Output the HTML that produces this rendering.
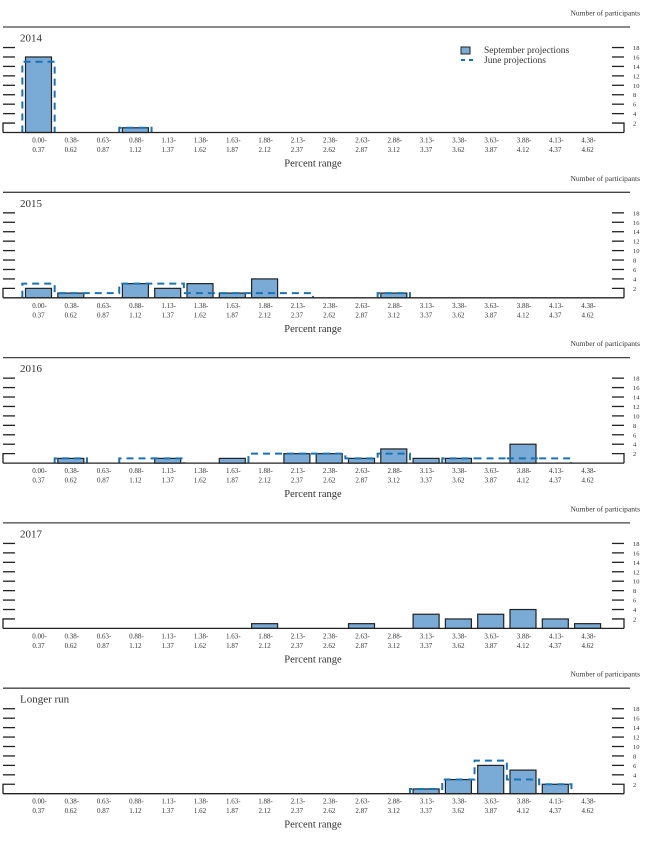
<!DOCTYPE html>
<html><head><meta charset="utf-8"><style>
html,body{margin:0;padding:0;background:#fff;}
svg text{font-family:"Liberation Serif",serif;fill:#333;}
</style></head><body>
<svg id="chart" width="647" height="859" xmlns="http://www.w3.org/2000/svg"></svg>
<script>
const categories=["0.00-|0.37","0.38-|0.62","0.63-|0.87","0.88-|1.12","1.13-|1.37","1.38-|1.62","1.63-|1.87","1.88-|2.12","2.13-|2.37","2.38-|2.62","2.63-|2.87","2.88-|3.12","3.13-|3.37","3.38-|3.62","3.63-|3.87","3.88-|4.12","4.13-|4.37","4.38-|4.62"];
const yTicks=[2,4,6,8,10,12,14,16,18];
const panelTitles=["2014","2015","2016","2017","Longer run"];
const sept2014=[16,0,0,1,0,0,0,0,0,0,0,0,0,0,0,0,0,0];
const june2014=[15,0,0,1,0,0,0,0,0,0,0,0,0,0,0,0,0,0];
const sept2015=[2,1,0,3,2,3,1,4,0,0,0,1,0,0,0,0,0,0];
const june2015=[3,1,1,3,3,1,1,1,1,0,0,1,0,0,0,0,0,0];
const sept2016=[0,1,0,0,1,0,1,0,2,2,1,3,1,1,0,4,0,0];
const june2016=[0,1,0,1,1,0,0,2,2,2,1,2,0,1,1,1,1,0];
const sept2017=[0,0,0,0,0,0,0,1,0,0,1,0,3,2,3,4,2,1];
const june2017=[0,0,0,0,0,0,0,0,0,0,0,0,0,0,0,0,0,0];
const septLR=[0,0,0,0,0,0,0,0,0,0,0,0,1,3,6,5,2,0];
const juneLR=[0,0,0,0,0,0,0,0,0,0,0,0,1,3,7,3,2,0];

const svg=document.getElementById('chart');
const NS="http://www.w3.org/2000/svg";
function mk(tag,attrs,parent){const e=document.createElementNS(NS,tag);for(const k in attrs)e.setAttribute(k,attrs[k]);(parent||svg).appendChild(e);return e;}
const sept=[sept2014,sept2015,sept2016,sept2017,septLR];
const june=[june2014,june2015,june2016,june2017,juneLR];
const STEP=32.3, C0=38.5, BW=26, UNIT=4.72;
function xc(i){return C0+i*STEP;}

panelTitles.forEach((title,p)=>{
  const base=132.5+p*165.3;
  const y=v=>base-v*UNIT;
  const g=mk('g',{});
  
  
  let t=mk('text',{x:640,y:base-117,'text-anchor':'end','font-size':7.5},g);t.textContent="Number of participants";
  
  let l=mk('line',{x1:3,x2:630,y1:base-105.5,y2:base-105.5,stroke:'#444','stroke-width':1.3},g);
  
  t=mk('text',{x:20,y:base-91,'font-size':11},g);t.textContent=title;
  
  yTicks.forEach(v=>{
    if(v===2){
      let a=mk('path',{d:`M15,${y(v)}H3V${base}`,fill:'none',stroke:'#222','stroke-width':1.3},g);
      
      a=mk('path',{d:`M612,${y(v)}H624V${base}`,fill:'none',stroke:'#222','stroke-width':1.3},g);
      
    } else {
      let a=mk('line',{x1:3,x2:15,y1:y(v),y2:y(v),stroke:'#222','stroke-width':1.3},g);
      
      a=mk('line',{x1:612,x2:624,y1:y(v),y2:y(v),stroke:'#222','stroke-width':1.3},g);
      
    }
    const tl=mk('text',{x:633,y:y(v)+2.5,'font-size':6.5},g);tl.textContent=v;
    
  });
  sept[p].forEach((v,i)=>{
    if(!v)return;
    const r=mk('rect',{x:xc(i)-BW/2,y:y(v),width:BW,height:v*UNIT,fill:'#7aaad6',stroke:'#222','stroke-width':1.2},g);
    
  });
  // June step outline
  const jv=june[p];let i=0;
  while(i<jv.length){
    if(!jv[i]){i++;continue;}
    let d=`M${xc(i)-STEP/2},${base}`;
    while(i<jv.length&&jv[i]){d+=`V${y(jv[i])}H${xc(i)+STEP/2}`;i++;}
    d+=`V${base}`;
    const pa=mk('path',{d,fill:'none',stroke:'#1a72b0','stroke-width':2,'stroke-dasharray':'7,5'},g);
    
  }
  l=mk('line',{x1:3,x2:624,y1:base,y2:base,stroke:'#222','stroke-width':1.3},g);
  
  categories.forEach((c,k)=>{
    const [a,b]=c.split('|');
    let tx=mk('text',{x:xc(k)+1,y:base+10,'text-anchor':'middle','font-size':7},g);tx.textContent=a;
    
    tx=mk('text',{x:xc(k),y:base+19.5,'text-anchor':'middle','font-size':7},g);tx.textContent=b;
    
  });
  t=mk('text',{x:313,y:base+34,'text-anchor':'middle','font-size':10.5},g);t.textContent="Percent range";
  
});
// legend
const lg=mk('g',{});


let r=mk('rect',{x:461,y:47,width:9,height:7,fill:'#7aaad6',stroke:'#222','stroke-width':1},lg);

let t=mk('text',{x:484,y:53,'font-size':9.5},lg);t.textContent="September projections";

let l=mk('line',{x1:461,x2:474,y1:60,y2:60,stroke:'#1a72b0','stroke-width':2,'stroke-dasharray':'4,4'},lg);

t=mk('text',{x:484,y:63,'font-size':9.5},lg);t.textContent="June projections";

</script>
</body></html>
